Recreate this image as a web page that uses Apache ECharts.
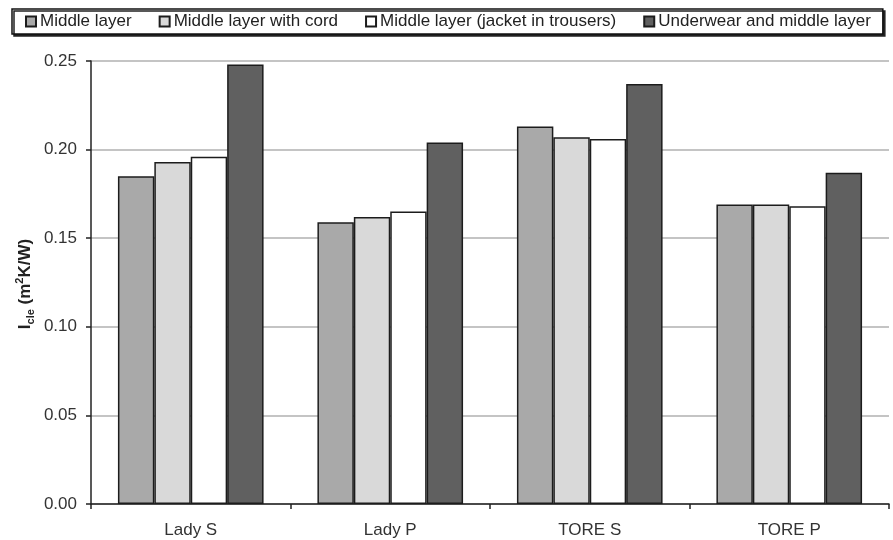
<!DOCTYPE html>
<html>
<head>
<meta charset="utf-8">
<script src="https://cdn.jsdelivr.net/npm/echarts@6/dist/echarts.min.js"></script>
<style>
  html, body { margin: 0; padding: 0; background: #fff; }
  #chart { width: 893px; height: 540px; }
</style>
</head>
<body>
<div id="chart"></div>
<script>
// Garment samples on the x axis
const categories = ['Lady S', 'Lady P', 'TORE S', 'TORE P'];

// Series names
const seriesNames = [
  'Middle layer',
  'Middle layer with cord',
  'Middle layer (jacket in trousers)',
  'Underwear and middle layer'
];

// Effective clothing insulation Icle (m²K/W) per sample
const middleLayer        = [0.185, 0.159, 0.213, 0.169];
const middleLayerCord    = [0.193, 0.162, 0.207, 0.169];
const middleLayerJacket  = [0.196, 0.165, 0.206, 0.168];
const underwearAndMiddle = [0.248, 0.204, 0.237, 0.187];

// y axis ticks
const yMin = 0, yMax = 0.25, yStep = 0.05;

const seriesData = [middleLayer, middleLayerCord, middleLayerJacket, underwearAndMiddle];
const fills = ['#a9a9a9', '#d9d9d9', '#ffffff', '#606060'];
const FONT = '"Liberation Sans", Arial, sans-serif';

const chart = echarts.init(document.getElementById('chart'), null, { renderer: 'canvas' });

chart.setOption({
  animation: false,
  backgroundColor: '#ffffff',
  textStyle: { fontFamily: FONT },
  grid: { left: 91, right: 4, top: 61, bottom: 36, containLabel: false },
  legend: {
    left: 12,
    top: 9,
    padding: [4, 12, 4, 13],
    itemGap: 27,
    itemWidth: 10,
    itemHeight: 10,
    icon: 'rect',
    borderColor: '#111',
    borderWidth: 1.5,
    backgroundColor: '#fff',
    shadowColor: '#222',
    shadowBlur: 0,
    shadowOffsetX: 2,
    shadowOffsetY: 2,
    textStyle: { fontFamily: FONT, fontSize: 17, color: '#222', padding: [0, 0, 0, -1] },
    data: seriesNames
  },
  xAxis: {
    type: 'category',
    data: categories,
    boundaryGap: true,
    axisLine: { lineStyle: { color: '#222', width: 1.5 } },
    axisTick: { show: true, length: 5, lineStyle: { color: '#222', width: 1.5 } },
    axisLabel: { fontFamily: FONT, fontSize: 17, color: '#333', margin: 18 }
  },
  yAxis: {
    type: 'value',
    min: yMin,
    max: yMax,
    interval: yStep,
    axisLine: { show: true, lineStyle: { color: '#222', width: 1.5 } },
    axisTick: { show: true, length: 5, lineStyle: { color: '#222', width: 1.5 } },
    axisLabel: {
      fontFamily: FONT, fontSize: 17, color: '#333', margin: 14,
      formatter: v => v.toFixed(2)
    },
    splitLine: { show: true, lineStyle: { color: '#b0b0b0', width: 1.5 } }
  },
  graphic: [{
    type: 'text',
    x: 25,
    y: 284,
    rotation: Math.PI / 2,
    style: {
      text: '{m|I}{sub|cle}{m| (m}{sup|2}{m|K/W)}',
      align: 'center',
      verticalAlign: 'middle',
      fill: '#222',
      rich: {
        m:   { fontFamily: FONT, fontSize: 17, fontWeight: 'bold', lineHeight: 22, verticalAlign: 'middle', fill: '#222' },
        sub: { fontFamily: FONT, fontSize: 11, fontWeight: 'bold', lineHeight: 22, verticalAlign: 'bottom', fill: '#222' },
        sup: { fontFamily: FONT, fontSize: 11, fontWeight: 'bold', lineHeight: 22, verticalAlign: 'top', fill: '#222' }
      }
    }
  }],
  series: seriesNames.map((name, i) => ({
    name,
    type: 'bar',
    data: seriesData[i],
    barGap: '0%',
    barCategoryGap: '27%',
    itemStyle: { color: fills[i], borderColor: '#1c1c1c', borderWidth: 1.5 }
  }))
});
</script>
</body>
</html>
